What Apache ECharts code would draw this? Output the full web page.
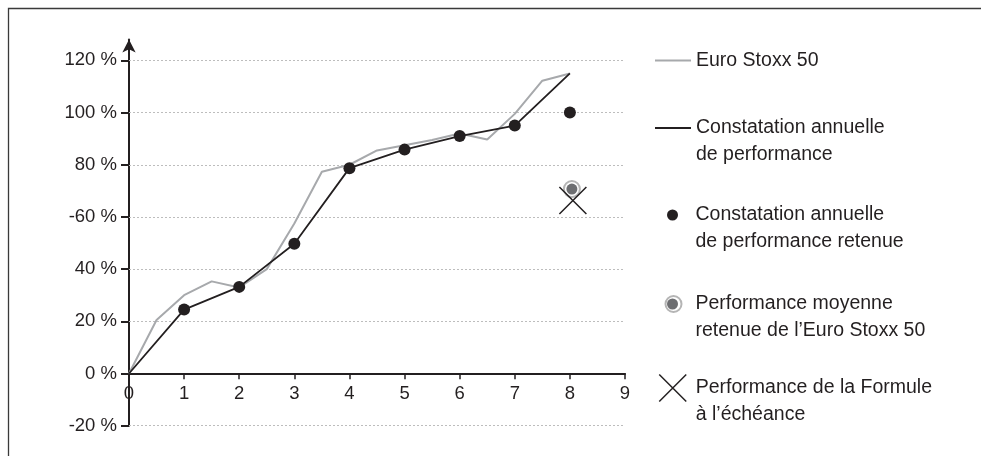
<!DOCTYPE html>
<html>
<head>
<meta charset="utf-8">
<script src="https://cdn.jsdelivr.net/npm/echarts@6/dist/echarts.min.js"></script>
<style>html,body{margin:0;padding:0;background:#fff}#c{width:981px;height:456px}</style>
</head>
<body>
<div id="c"></div>
<script>
// ---- data ----
const stoxxX = [0, 0.5, 1, 1.5, 2, 2.5, 3, 3.5, 4, 4.5, 5, 5.5, 6, 6.5, 7, 7.5, 8];
const stoxxValues = [0, 20.5, 30, 35.3, 33, 40, 57.5, 77.3, 80, 85.5, 87.5, 89.5, 92, 89.7, 99.5, 112.2, 115];
const constatX = [0, 1, 2, 3, 4, 5, 6, 7, 8];
const constatValues = [0, 24.5, 33.2, 49.7, 78.7, 85.8, 91, 95, 115];
const retenueX = [1, 2, 3, 4, 5, 6, 7, 8];
const retenueValues = [24.5, 33.2, 49.7, 78.7, 85.8, 91, 95, 100];
const moyennePoint = [8, 70.7];
const formulePoint = [8, 66.3];
const yTickValues = [-20, 0, 20, 40, 60, 80, 100, 120];
const yTickLabels = ['-20 %', '0 %', '20 %', '40 %', '-60 %', '80 %', '100 %', '120 %'];
const xTickLabels = ['0', '1', '2', '3', '4', '5', '6', '7', '8', '9'];
const gridValues = [-20, 20, 40, 60, 80, 100, 120];
const seriesNames = [
  'Euro Stoxx 50',
  'Constatation annuelle de performance',
  'Constatation annuelle de performance retenue',
  'Performance moyenne retenue de l’Euro Stoxx 50',
  'Performance de la Formule à l’échéance'
];
const ringName = 'Performance moyenne (contour)';
const legendLines = [
  ['Euro Stoxx 50'],
  ['Constatation annuelle', 'de performance'],
  ['Constatation annuelle', 'de performance retenue'],
  ['Performance moyenne', 'retenue de l’Euro Stoxx 50'],
  ['Performance de la Formule', 'à l’échéance']
];

// ---- styles ----
const FONT = "'Liberation Sans', Arial, Helvetica, sans-serif";
const TEXT = '#231f20';
const GRAY = '#a7a9ac';
const LH = 27;
const LEGEND_FS = 19.5;

function legendText(i) {
  const l = legendLines[i];
  return l.length > 1 ? '\n' + l.join('\n') : l[0];
}
function mkLegend(name, idx, left, top, itemHeight, extra) {
  return Object.assign({
    data: [name],
    left: left,
    top: top,
    orient: 'vertical',
    padding: 0,
    itemWidth: 36,
    itemHeight: itemHeight,
    selectedMode: false,
    formatter: function () { return legendText(idx); },
    textStyle: { fontFamily: FONT, fontSize: LEGEND_FS, color: TEXT, lineHeight: LH }
  }, extra || {});
}

const chart = echarts.init(document.getElementById('c'), null, { renderer: 'canvas' });
chart.setOption({
  animation: false,
  backgroundColor: '#fff',
  graphic: [{
    type: 'rect', silent: true, z: -10,
    shape: { x: 8.5, y: 8.5, width: 1400, height: 900 },
    style: { fill: 'none', stroke: '#3a3a3a', lineWidth: 1.3 }
  }],
  grid: { left: 129, right: 356, top: 39.5, bottom: 30.3, outerBoundsMode: 'none', containLabel: false },
  xAxis: {
    type: 'value', min: 0, max: 9, interval: 1,
    position: 'bottom', offset: -52.4,
    axisLine: { show: true, onZero: false, lineStyle: { color: TEXT, width: 2 } },
    axisTick: { show: true, length: 6, lineStyle: { color: TEXT, width: 1.5 } },
    axisLabel: { color: TEXT, fontFamily: FONT, fontSize: 18.5, margin: 11,
      formatter: function (v) { return xTickLabels[v]; } },
    splitLine: { show: false }
  },
  yAxis: {
    type: 'value', min: -20, max: 128,
    axisLine: { show: true, onZero: false, symbol: ['none', 'arrow'], symbolSize: [10, 13],
      lineStyle: { color: TEXT, width: 2 } },
    axisTick: { show: true, length: 8, customValues: yTickValues, lineStyle: { color: TEXT, width: 2 } },
    axisLabel: { show: true, customValues: yTickValues, color: TEXT, fontFamily: FONT, fontSize: 18.5, margin: 12,
      formatter: function (v) { return yTickLabels[yTickValues.indexOf(v)]; } },
    splitLine: { show: false }
  },
  legend: [
    mkLegend(seriesNames[0], 0, 654, 47, 14, { itemStyle: { opacity: 0 } }),
    mkLegend(seriesNames[1], 1, 654, 87.5, 14, { itemStyle: { opacity: 0 } }),
    mkLegend(seriesNames[2], 2, 667, 174.5, 11),
    mkLegend(ringName, 3, 664.5, 263.5, 16, {
      textStyle: { fontFamily: FONT, fontSize: LEGEND_FS, color: 'rgba(0,0,0,0)', lineHeight: LH },
      itemStyle: { borderWidth: 2 }
    }),
    mkLegend(seriesNames[3], 3, 667, 263.5, 11),
    mkLegend(seriesNames[4], 4, 658.5, 347.5, 27, { itemStyle: { borderWidth: 1.5 } })
  ],
  series: [
    {
      type: 'line', name: '__grid', data: [], silent: true, z: 1,
      markLine: {
        silent: true, z: 1, symbol: ['none', 'none'], label: { show: false },
        lineStyle: { color: '#bdbdbd', width: 1, type: [2, 2] },
        emphasis: { disabled: true },
        data: gridValues.map(function (v) { return { yAxis: v }; })
      }
    },
    {
      type: 'line', name: seriesNames[0], z: 2, symbol: 'none',
      data: stoxxX.map(function (x, i) { return [x, stoxxValues[i]]; }),
      lineStyle: { color: GRAY, width: 2 }, itemStyle: { color: GRAY }
    },
    {
      type: 'line', name: seriesNames[1], z: 3, symbol: 'none',
      data: constatX.map(function (x, i) { return [x, constatValues[i]]; }),
      lineStyle: { color: TEXT, width: 1.8 }, itemStyle: { color: TEXT }
    },
    {
      type: 'scatter', name: seriesNames[2], z: 4, symbol: 'circle', symbolSize: 12,
      data: retenueX.map(function (x, i) { return [x, retenueValues[i]]; }),
      itemStyle: { color: TEXT, opacity: 1 }
    },
    {
      type: 'scatter', name: ringName, z: 4, symbol: 'circle', symbolSize: 16, symbolOffset: [2, 0],
      data: [moyennePoint],
      itemStyle: { color: '#ffffff', borderColor: '#b5b5b5', borderWidth: 2, opacity: 1 }
    },
    {
      type: 'scatter', name: seriesNames[3], z: 5, symbol: 'circle', symbolSize: 11, symbolOffset: [2, 0],
      data: [moyennePoint],
      itemStyle: { color: '#6d6e71', opacity: 1 }
    },
    {
      type: 'scatter', name: seriesNames[4], z: 6, symbol: 'path://M0,0L1,1M1,0L0,1', symbolSize: 27,
      symbolOffset: [3, 0], data: [formulePoint],
      itemStyle: { color: 'rgba(0,0,0,0)', borderColor: TEXT, borderWidth: 1.5, opacity: 1 }
    }
  ]
});
</script>
</body>
</html>
